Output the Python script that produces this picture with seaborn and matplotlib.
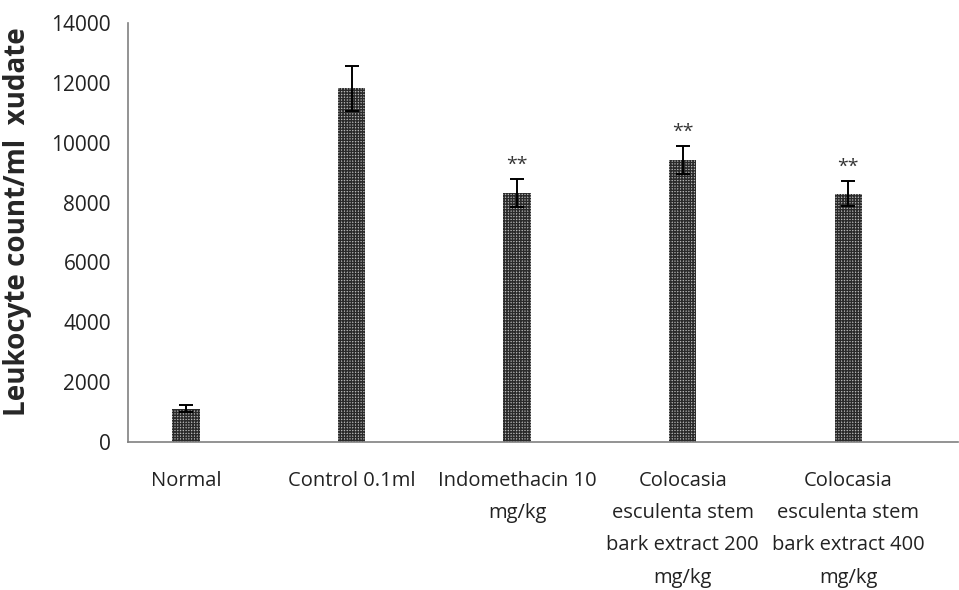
import matplotlib
matplotlib.use("Agg")
import matplotlib.pyplot as plt
import seaborn as sns
import pandas as pd
import numpy as np

categories = ["Normal", "Control 0.1ml", "Indomethacin 10\nmg/kg",
              "Colocasia\nesculenta stem\nbark extract 200\nmg/kg",
              "Colocasia\nesculenta stem\nbark extract 400\nmg/kg"]
values = [1120, 11820, 8320, 9420, 8300]
errors = [130, 750, 480, 480, 430]
stars = ["", "", "**", "**", "**"]
yticks = [0, 2000, 4000, 6000, 8000, 10000, 12000, 14000]

sns.set_style("white")
plt.rcParams['font.family'] = ['Open Sans', 'DejaVu Sans']
plt.rcParams['hatch.linewidth'] = 1.0

fig = plt.figure(figsize=(9.59, 5.90), dpi=100)
ax = fig.add_axes([0.1335, 0.2508, 0.865, 0.7102])

df = pd.DataFrame({"cat": categories, "val": values})
sns.barplot(data=df, x="cat", y="val", ax=ax, width=0.165,
            color="#b8b8b8", saturation=1, errorbar=None)
for p in ax.patches:
    p.set_hatch("++++++")
    p.set_edgecolor("#2a2a2a")
    p.set_linewidth(0)

x = np.arange(len(categories))
ax.errorbar(x, values, yerr=errors, fmt="none", ecolor="black",
            elinewidth=1.4, capsize=5, capthick=1.4)
for xi, v, e, s in zip(x, values, errors, stars):
    if s:
        ax.text(xi, v + e + 300, s, ha="center", va="baseline", fontsize=14, color="#333333")

ax.set_xlim(-0.35, 4.66)
ax.set_ylim(0, 14000)
ax.set_yticks(yticks)
ax.set_yticklabels([str(t) for t in yticks], fontsize=15, color="#222222")
ax.set_xticks(x)
ax.set_xticklabels(categories, fontsize=14.5, color="#222222", linespacing=1.81)
ax.tick_params(axis="y", direction="out", length=4.3, width=1, color="#808080", pad=8)
ax.tick_params(axis="x", length=0, pad=21)
ax.set_xlabel("")
ax.set_ylabel("Leukocyte count/ml  xudate", fontsize=20, fontweight="bold",
              family="Open Sans")
ax.yaxis.set_label_coords(-0.116, 0.525)
for side in ["top", "right"]:
    ax.spines[side].set_visible(False)
for side in ["left", "bottom"]:
    ax.spines[side].set_color("#808080")
    ax.spines[side].set_linewidth(1.2)

fig.savefig("out.png", dpi=100)
